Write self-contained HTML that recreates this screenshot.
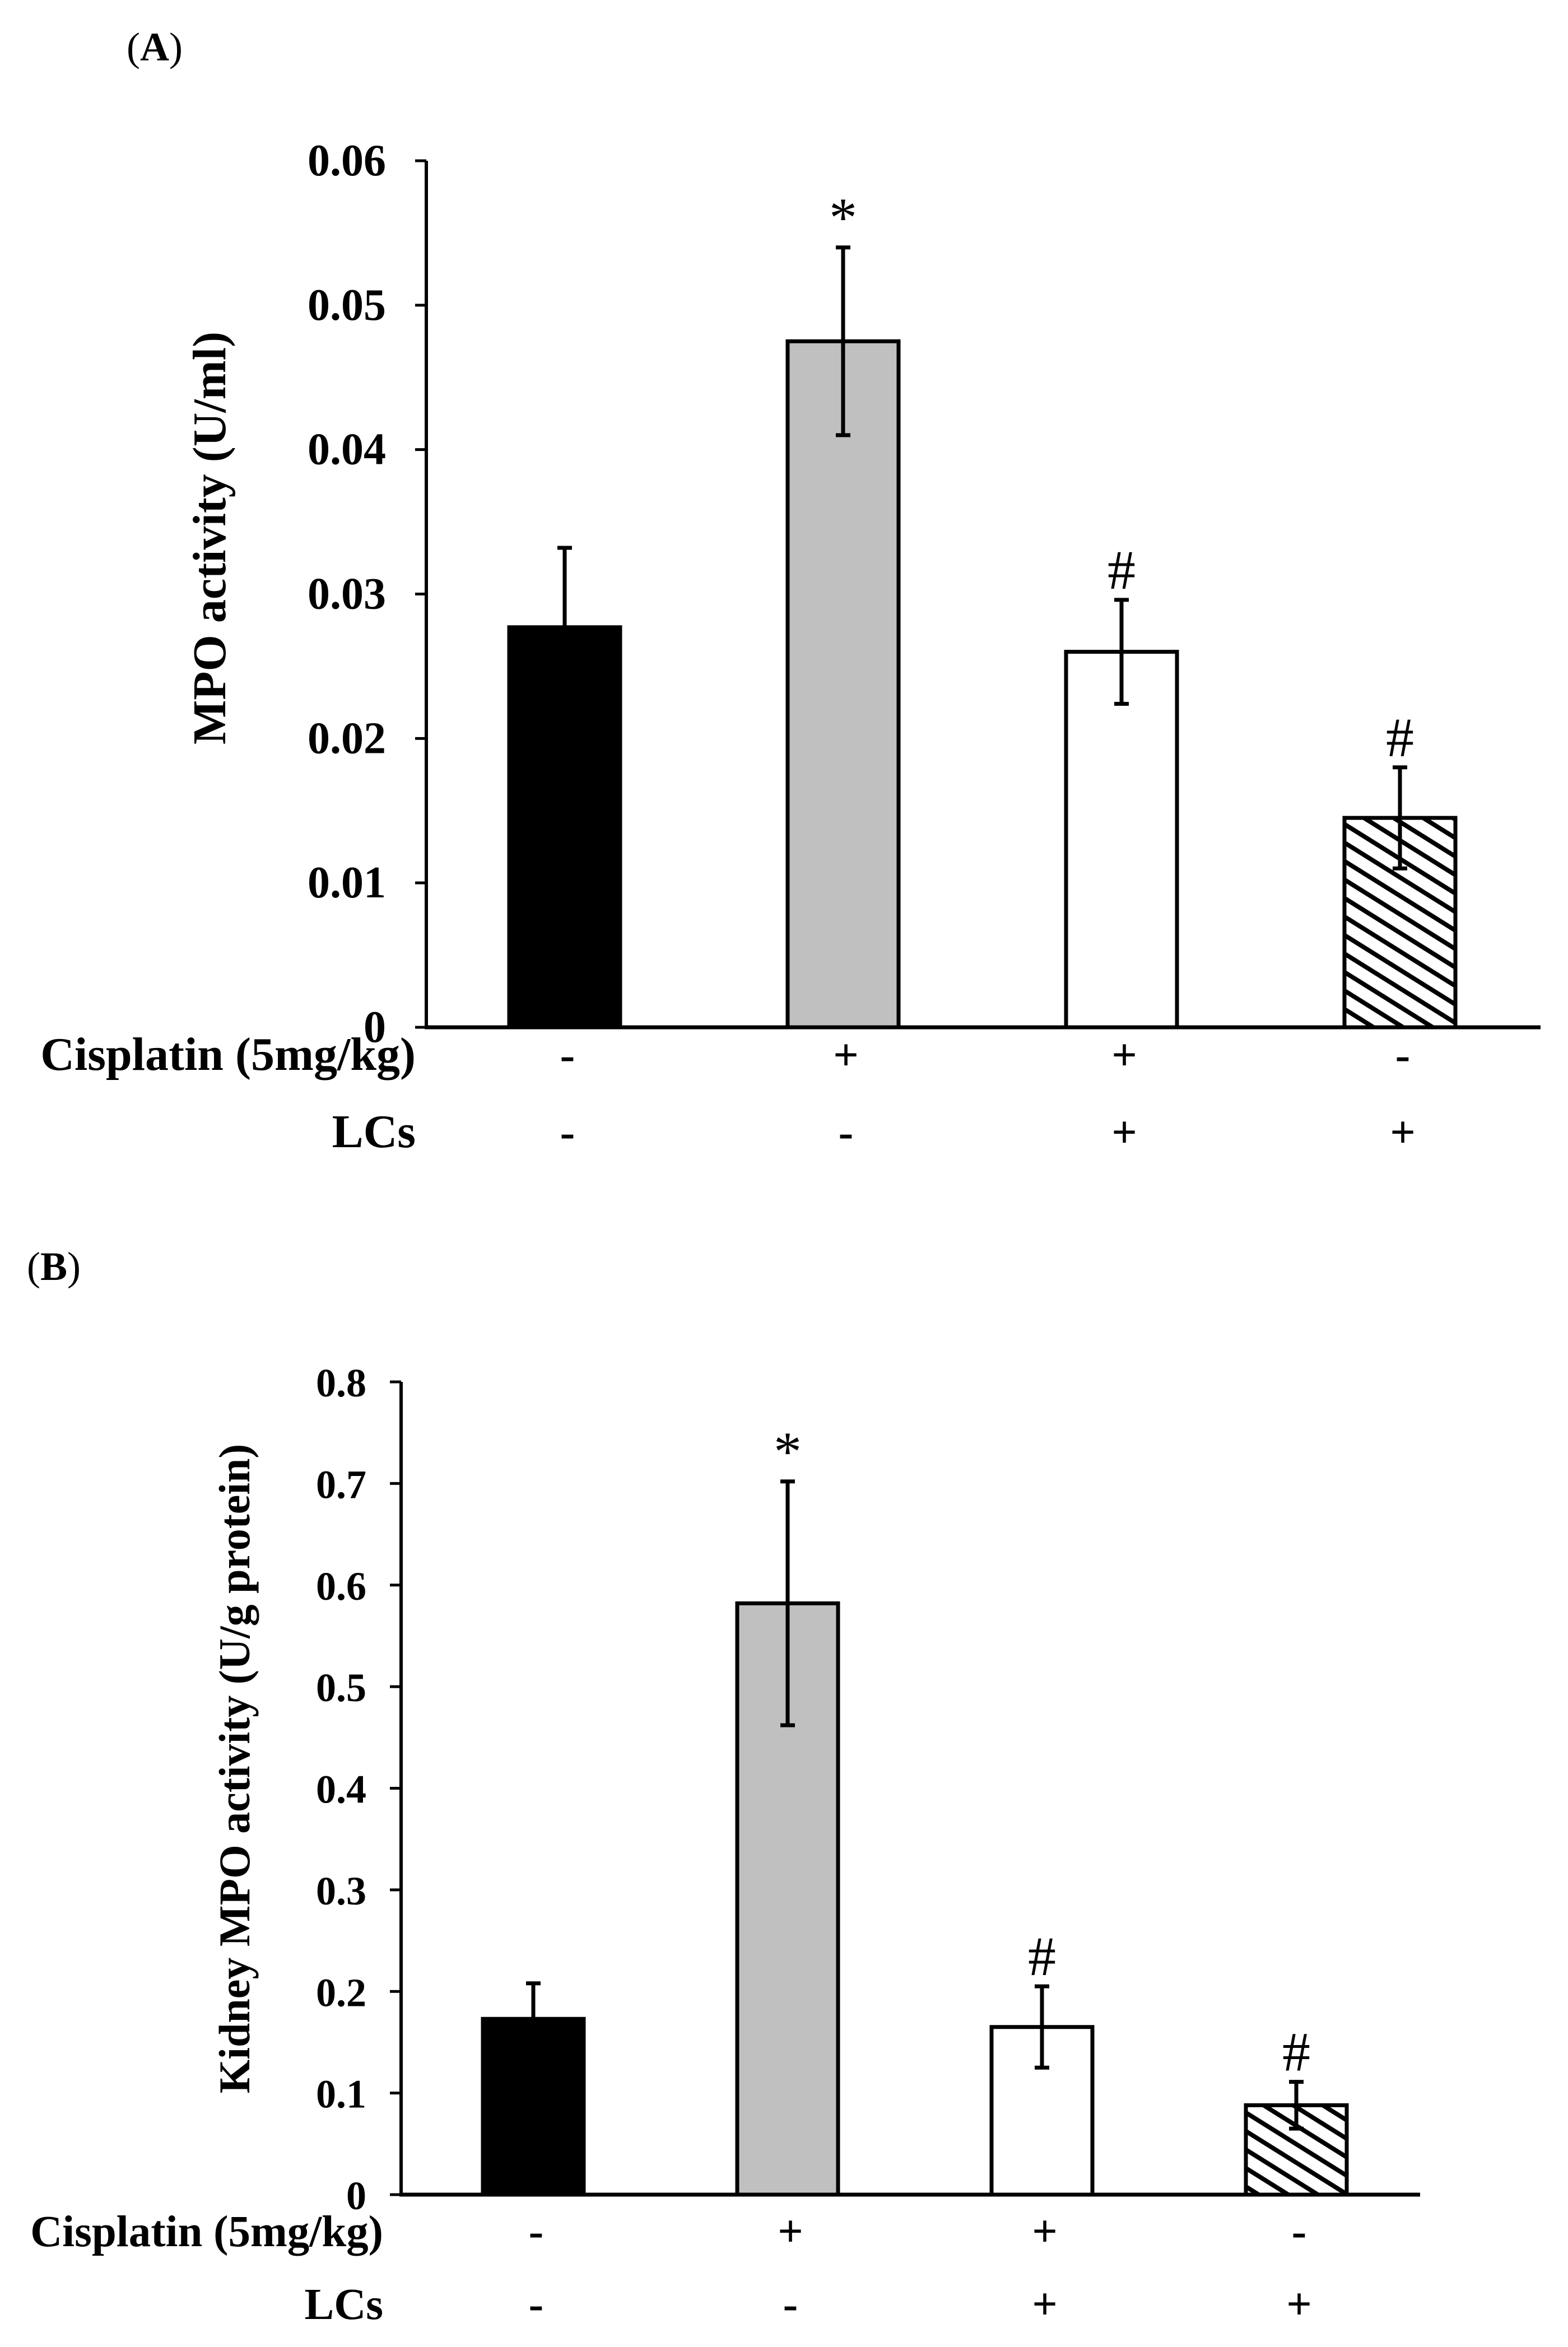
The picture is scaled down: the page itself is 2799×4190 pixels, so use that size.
<!DOCTYPE html>
<html><head><meta charset="utf-8"><style>
html,body{margin:0;padding:0;background:#fff}
svg{display:block}
text{font-family:"Liberation Serif",serif;fill:#000}
</style></head><body>
<svg id="c" width="2799" height="4190" viewBox="0 0 2799 4190" xmlns="http://www.w3.org/2000/svg">
<defs>
<pattern id="hatch" patternUnits="userSpaceOnUse" width="28" height="28" patternTransform="rotate(32)">
<rect width="28" height="28" fill="#fff"/><rect y="0" width="28" height="8" fill="#000"/>
</pattern>
</defs>
<text x="226" y="108" font-size="72">(<tspan font-weight="bold">A</tspan>)</text>
<text x="48" y="2285" font-size="72">(<tspan font-weight="bold">B</tspan>)</text>
</svg>
<script>
const groups = ["Control","Cisplatin","Cisplatin+LCs","LCs"];
const cisplatinSigns = ["-","+","+","-"];
const lcsSigns = ["-","-","+","+"];
const fills = ["#000","#c0c0c0","#fff","url(#hatch)"];
const marksA = ["","*","#","#"];
const marksB = ["","*","#","#"];
const valuesA = [0.0277,0.0475,0.026,0.0145];
const errorsA = [0.0055,0.0065,0.0036,0.0035];
const ticksA = ["0","0.01","0.02","0.03","0.04","0.05","0.06"];
const valuesB = [0.173,0.582,0.165,0.088];
const errorsB = [0.035,0.12,0.04,0.023];
const ticksB = ["0","0.1","0.2","0.3","0.4","0.5","0.6","0.7","0.8"];

const svg = document.getElementById('c');
const NS = 'http://www.w3.org/2000/svg';
function mk(tag, attrs, parent){
  const e = document.createElementNS(NS, tag);
  for (const k in attrs) e.setAttribute(k, attrs[k]);
  (parent||svg).appendChild(e);
  return e;
}
function panel(p){
  const g = mk('g', {});
  
  
  const max = parseFloat(p.ticks[p.ticks.length-1]);
  const y = v => p.bottom - (v/max)*(p.bottom - p.top);
  const x = i => p.x0 + i*p.step;
  p.values.forEach((v,i)=>{
    const r = mk('rect', {x:x(i)-p.bw/2, y:y(v), width:p.bw, height:p.bottom-y(v), fill:fills[i], stroke:'#000', 'stroke-width':7}, g);
    
    
    const e = p.errors[i];
    const eb = mk('path', {d:`M${x(i)},${y(v+e)}V${y(v-e)}M${x(i)-13},${y(v+e)}h26M${x(i)-13},${y(v-e)}h26`, stroke:'#000', 'stroke-width':7, fill:'none'}, g);
    
    
    if (p.marks[i]) {
      const t = mk('text', {x:x(i), y:y(v+e)-p.markGap, 'text-anchor':'middle', 'font-size':100}, g);
      t.textContent = p.marks[i];
      
      
    }
    const s1 = mk('text', {x:x(i)+5, y:p.row1, 'text-anchor':'middle', 'font-size':80, 'font-weight':'bold'}, g);
    s1.textContent = cisplatinSigns[i];
    
    
    const s2 = mk('text', {x:x(i)+5, y:p.row2, 'text-anchor':'middle', 'font-size':80, 'font-weight':'bold'}, g);
    s2.textContent = lcsSigns[i];
    
    
  });
  const ya = mk('line', {x1:p.ax, y1:p.top, x2:p.ax, y2:p.bottom, stroke:'#000', 'stroke-width':6}, g);
  
  
  const xa = mk('line', {x1:p.ax-3, y1:p.bottom, x2:p.right, y2:p.bottom, stroke:'#000', 'stroke-width':7}, g);
  
  
  p.ticks.forEach(t=>{
    const v = parseFloat(t);
    const tk = mk('line', {x1:p.ax-20, y1:y(v), x2:p.ax, y2:y(v), stroke:'#000', 'stroke-width':5}, g);
    
    
    const tl = mk('text', {x:p.ax-p.labGap, y:y(v)+26, 'text-anchor':'end', 'font-size':p.tickFs, 'font-weight':'bold'}, g);
    tl.textContent = t;
    
    
  });
  const yt = mk('text', {x:0, y:0, transform:`translate(${p.titleX},${(p.top+p.bottom)/2+p.titleDy}) rotate(-90)`, 'text-anchor':'middle', 'font-size':p.titleFs, 'font-weight':'bold'}, g);
  yt.textContent = p.title;
  
  
  const r1 = mk('text', {x:p.rowRight, y:p.row1, 'text-anchor':'end', 'font-size':p.rowFs, 'font-weight':'bold'}, g);
  r1.textContent = 'Cisplatin (5mg/kg)';
  
  
  const r2 = mk('text', {x:p.rowRight, y:p.row2, 'text-anchor':'end', 'font-size':p.rowFs, 'font-weight':'bold'}, g);
  r2.textContent = 'LCs';
  
  
}
panel({name:'panel-a-chart', values:valuesA, errors:errorsA, ticks:ticksA, marks:marksA,
  top:287, bottom:1834, ax:761, right:2750, x0:1008, step:497, bw:198, tickFs:80, labGap:72,
  row1:1910, row2:2048, rowRight:742, rowFs:84, titleX:402, titleDy:-100, titleFs:84, markGap:20,
  title:'MPO activity (U/ml)'});
panel({name:'panel-b-chart', values:valuesB, errors:errorsB, ticks:ticksB, marks:marksB,
  top:2467, bottom:3918, ax:716, right:2535, x0:952, step:454, bw:180, tickFs:72, labGap:62,
  row1:4010, row2:4140, rowRight:684, rowFs:79, titleX:445, titleDy:-35, titleFs:78, markGap:20,
  title:'Kidney MPO activity (U/g protein)'});
</script>
</body></html>
